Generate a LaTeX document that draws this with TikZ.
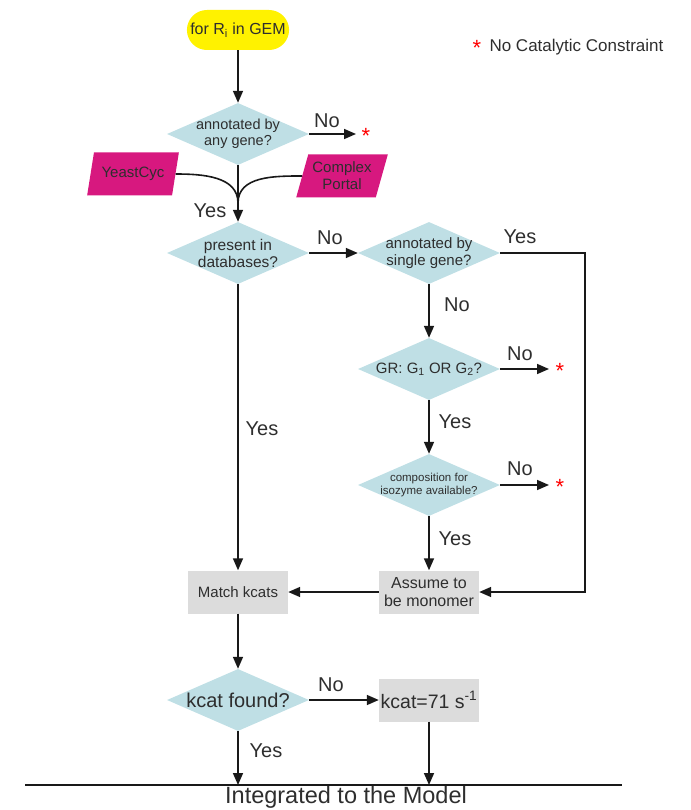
\documentclass[tikz,border=0pt]{standalone}
\usepackage{fontspec}
\setmainfont{Liberation Sans}
\usetikzlibrary{shapes.geometric, arrows.meta}
\definecolor{decblue}{HTML}{BFDFE5}
\definecolor{srcpink}{HTML}{D7187F}
\definecolor{boxgray}{HTML}{DCDCDC}
\definecolor{txtgray}{HTML}{2E2E2E}
\newcommand{\fsz}[2]{\fontsize{#1}{#2}\selectfont}
\newcommand{\nostar}{\fsz{22}{22}\textcolor{red}{*}}

\begin{document}
\begin{tikzpicture} [x = 1pt, y = -1pt,
  conn/.style = {line width = 1.6pt, draw = black!90},
  flow/.style = {conn, -{Triangle[length = 12pt, width = 10pt]}},
  decision/.style = {diamond, fill = decblue, aspect = 2.27, inner sep = -7pt,
    minimum width = 142pt, minimum height = 62pt, align = center, text = txtgray},
  process/.style = {rectangle, fill = boxgray, minimum width = 100pt,
    minimum height = 43pt, inner sep = 1pt, align = center, text = txtgray},
  source/.style = {trapezium, trapezium left angle = 70, trapezium right angle = 110,
    trapezium stretches = true, fill = srcpink, minimum width = 92pt,
    minimum height = 43pt, inner sep = 1pt, align = center, text = txtgray,
    font = \fsz{15}{17}},
  answer/.style = {text = txtgray, font = \fsz{20}{22}}]
\useasboundingbox (0, 0) rectangle (690, 810);

\node[rectangle, rounded corners = 20pt, fill = yellow, minimum width = 100pt, minimum height = 40pt, text = txtgray, font = \fsz{16}{18}] (start) at (238, 30) {for R\textsubscript{i} in GEM};
\node[decision, font = \fsz{14.5}{16}] (anygene) at (238, 134) {annotated by\\any gene?};
\node[source] (yeast) at (133, 174) {YeastCyc};
\node[source] (portal) at (342, 176) {Complex\\Portal};
\coordinate (merge) at (238, 203);
\node[decision, font = \fsz{15.5}{17}] (present) at (238, 253) {present in\\databases?};
\node[decision, font = \fsz{15}{16.5}] (single) at (429, 253) {annotated by\\single gene?};
\node[decision, font = \fsz{15}{17}] (grule) at (429, 369) {GR: G\textsubscript{1} OR G\textsubscript{2}?};
\node[decision, font = \fsz{11.5}{13.5}] (isozyme) at (429, 485) {composition for\\isozyme available?};
\node[process, font = \fsz{16}{17.5}] (monomer) at (429, 592) {Assume to\\be monomer};
\node[process, font = \fsz{15}{17}] (match) at (238, 592) {Match kcats};
\node[decision, font = \fsz{20}{22}] (found) at (238, 700) {kcat found?};
\node[process, font = \fsz{19.5}{22}] (default) at (429, 700) {kcat=71 s\textsuperscript{-1}};

\coordinate (rline) at (585, 0);
\coordinate (baseL) at (25, 785);
\coordinate (baseR) at (622, 785);
\coordinate (end1) at (356, 134);
\coordinate (end2) at (549, 369);
\coordinate (end3) at (549, 485);

\node[answer] (no1) at (327, 121) {No};
\node (star1) at (366, 136) {\nostar};
\node[answer] (yes1) at (210, 211) {Yes};
\node[answer] (no2) at (330, 238) {No};
\node[answer] (yes2) at (520, 237) {Yes};
\node[answer] (no3) at (457, 305) {No};
\node[answer] (no4) at (520, 354) {No};
\node (star2) at (560, 371) {\nostar};
\node[answer] (yes3) at (455, 422) {Yes};
\node[answer] (no5) at (520, 469) {No};
\node (star3) at (560, 487) {\nostar};
\node[answer] (yes4) at (455, 539) {Yes};
\node[answer] (yes5) at (262, 429) {Yes};
\node[answer] (no6) at (331, 685) {No};
\node[answer] (yes6) at (266, 751) {Yes};

\node (starkey) at (477, 48) {\nostar};
\node[anchor = west, text = txtgray, font = \fsz{17}{19}] (key) at (486, 47) {No Catalytic Constraint};
\node[text = txtgray, font = \fsz{23.5}{25}] (model) at (346, 797) {Integrated to the Model};

\draw[flow] (start) -- (anygene);
\draw[flow] (anygene.east) -- (end1);
\draw[flow] (anygene) -- (present);
\draw[conn] (yeast.east) to[out = 0, in = 90] (merge);
\draw[conn] (portal.west) to[out = 180, in = 90] (merge);
\draw[flow] (present) -- (single);
\draw[flow] (single.east) -- (single.east -| rline) |- (monomer.east);
\draw[flow] (single) -- (grule);
\draw[flow] (grule.east) -- (end2);
\draw[flow] (grule) -- (isozyme);
\draw[flow] (isozyme.east) -- (end3);
\draw[flow] (isozyme) -- (monomer);
\draw[flow] (present) -- (match);
\draw[flow] (monomer) -- (match);
\draw[flow] (match) -- (found);
\draw[flow] (found) -- (default);
\draw[flow] (found.south) -- (found.south |- baseL);
\draw[flow] (default.south) -- (default.south |- baseL);
\draw[conn] (baseL) -- (baseR);
\end{tikzpicture}
\end{document}
